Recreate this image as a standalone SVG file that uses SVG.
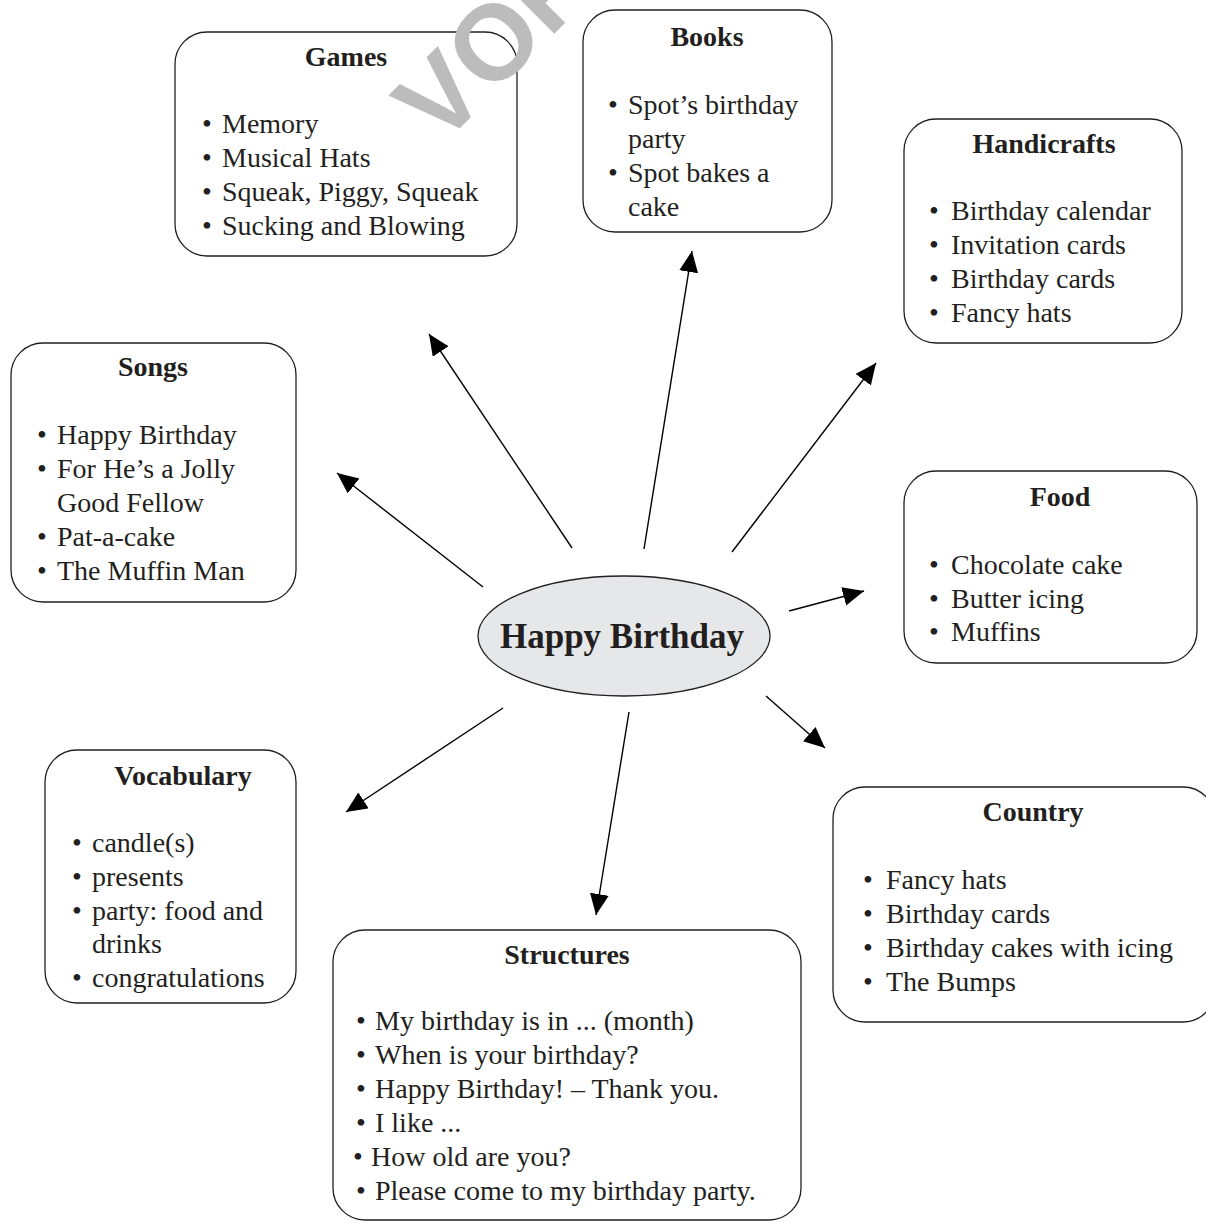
<svg xmlns="http://www.w3.org/2000/svg" width="1206" height="1223" viewBox="0 0 1206 1223">
<style>
.box{fill:#fff;stroke:#231f20;stroke-width:1.3}
.t{font-family:"Liberation Serif","Times New Roman",serif;font-size:28px;fill:#231f20}
.h{font-weight:bold;text-anchor:middle}
.b{text-anchor:middle}
.c{stroke:#000;stroke-width:1.4;fill:none;marker-end:url(#ah)}
.wm{font-family:"Liberation Sans",Arial,sans-serif;font-size:107px;font-weight:bold;fill:#bcbcbc}
</style>
<defs>
<marker id="ah" markerUnits="userSpaceOnUse" markerWidth="22" markerHeight="20" refX="21" refY="9.5" orient="auto">
<path d="M0,0 L21,9.5 L0,19 Z" fill="#000"/>
</marker>
</defs>
<rect width="1206" height="1223" fill="#fff"/>
<g id="connectors">
<line class="c" x1="483" y1="587" x2="337" y2="473"/>
<line class="c" x1="572" y1="548" x2="429" y2="334"/>
<line class="c" x1="644" y1="549" x2="692" y2="251"/>
<line class="c" x1="732" y1="552" x2="876" y2="363"/>
<line class="c" x1="789" y1="611" x2="864" y2="591"/>
<line class="c" x1="766" y1="696" x2="825" y2="748"/>
<line class="c" x1="629" y1="712" x2="596" y2="915"/>
<line class="c" x1="503" y1="708" x2="346" y2="812"/>
</g>
<g id="center">
<ellipse cx="624" cy="636" rx="146" ry="60" fill="#e6e7e8" stroke="#231f20" stroke-width="1.3"/>
<text class="t h" x="622" y="648" style="font-size:35px">Happy Birthday</text>
</g>
<g id="games">
<rect class="box" x="175" y="32" width="342" height="224" rx="32"/>
<text class="t h" x="346" y="66">Games</text>
<text class="t b" x="207" y="133">•</text><text class="t" x="222" y="133">Memory</text>
<text class="t b" x="207" y="167">•</text><text class="t" x="222" y="167">Musical Hats</text>
<text class="t b" x="207" y="201">•</text><text class="t" x="222" y="201">Squeak, Piggy, Squeak</text>
<text class="t b" x="207" y="235">•</text><text class="t" x="222" y="235">Sucking and Blowing</text>
</g>
<g id="books">
<rect class="box" x="583" y="10" width="249" height="222" rx="32"/>
<text class="t h" x="707" y="46">Books</text>
<text class="t b" x="613" y="114">•</text><text class="t" x="628" y="114">Spot’s birthday</text>
<text class="t" x="628" y="148">party</text>
<text class="t b" x="613" y="182">•</text><text class="t" x="628" y="182">Spot bakes a</text>
<text class="t" x="628" y="216">cake</text>
</g>
<g id="handicrafts">
<rect class="box" x="904" y="119" width="278" height="224" rx="32"/>
<text class="t h" x="1044" y="153">Handicrafts</text>
<text class="t b" x="934" y="220">•</text><text class="t" x="951" y="220">Birthday calendar</text>
<text class="t b" x="934" y="254">•</text><text class="t" x="951" y="254">Invitation cards</text>
<text class="t b" x="934" y="288">•</text><text class="t" x="951" y="288">Birthday cards</text>
<text class="t b" x="934" y="322">•</text><text class="t" x="951" y="322">Fancy hats</text>
</g>
<g id="songs">
<rect class="box" x="11" y="343" width="285" height="259" rx="32"/>
<text class="t h" x="153" y="376">Songs</text>
<text class="t b" x="42" y="444">•</text><text class="t" x="57" y="444">Happy Birthday</text>
<text class="t b" x="42" y="478">•</text><text class="t" x="57" y="478">For He’s a Jolly</text>
<text class="t" x="57" y="512">Good Fellow</text>
<text class="t b" x="42" y="546">•</text><text class="t" x="57" y="546">Pat-a-cake</text>
<text class="t b" x="42" y="580">•</text><text class="t" x="57" y="580">The Muffin Man</text>
</g>
<g id="food">
<rect class="box" x="904" y="471" width="293" height="192" rx="32"/>
<text class="t h" x="1060" y="506">Food</text>
<text class="t b" x="934" y="574">•</text><text class="t" x="951" y="574">Chocolate cake</text>
<text class="t b" x="934" y="608">•</text><text class="t" x="951" y="608">Butter icing</text>
<text class="t b" x="934" y="641">•</text><text class="t" x="951" y="641">Muffins</text>
</g>
<g id="vocabulary">
<rect class="box" x="45" y="750" width="251" height="253" rx="32"/>
<text class="t h" x="183" y="785">Vocabulary</text>
<text class="t b" x="77" y="852">•</text><text class="t" x="92" y="852">candle(s)</text>
<text class="t b" x="77" y="886">•</text><text class="t" x="92" y="886">presents</text>
<text class="t b" x="77" y="920">•</text><text class="t" x="92" y="920">party: food and</text>
<text class="t" x="92" y="953">drinks</text>
<text class="t b" x="77" y="987">•</text><text class="t" x="92" y="987">congratulations</text>
</g>
<g id="country">
<rect class="box" x="833" y="787" width="382" height="235" rx="32"/>
<text class="t h" x="1033" y="821">Country</text>
<text class="t b" x="868" y="889">•</text><text class="t" x="886" y="889">Fancy hats</text>
<text class="t b" x="868" y="923">•</text><text class="t" x="886" y="923">Birthday cards</text>
<text class="t b" x="868" y="957">•</text><text class="t" x="886" y="957">Birthday cakes with icing</text>
<text class="t b" x="868" y="991">•</text><text class="t" x="886" y="991">The Bumps</text>
</g>
<g id="structures">
<rect class="box" x="333" y="930" width="468" height="290" rx="32"/>
<text class="t h" x="567" y="964">Structures</text>
<text class="t b" x="361" y="1030">•</text><text class="t" x="375" y="1030">My birthday is in ... (month)</text>
<text class="t b" x="361" y="1064">•</text><text class="t" x="375" y="1064">When is your birthday?</text>
<text class="t b" x="361" y="1098">•</text><text class="t" x="375" y="1098">Happy Birthday! – Thank you.</text>
<text class="t b" x="361" y="1132">•</text><text class="t" x="375" y="1132">I like ...</text>
<text class="t b" x="358" y="1166">•</text><text class="t" x="371" y="1166">How old are you?</text>
<text class="t b" x="361" y="1200">•</text><text class="t" x="375" y="1200">Please come to my birthday party.</text>
</g>
<g id="watermark">
<text class="wm" transform="translate(440,148) rotate(-45)">VOR</text>
</g>
</svg>
